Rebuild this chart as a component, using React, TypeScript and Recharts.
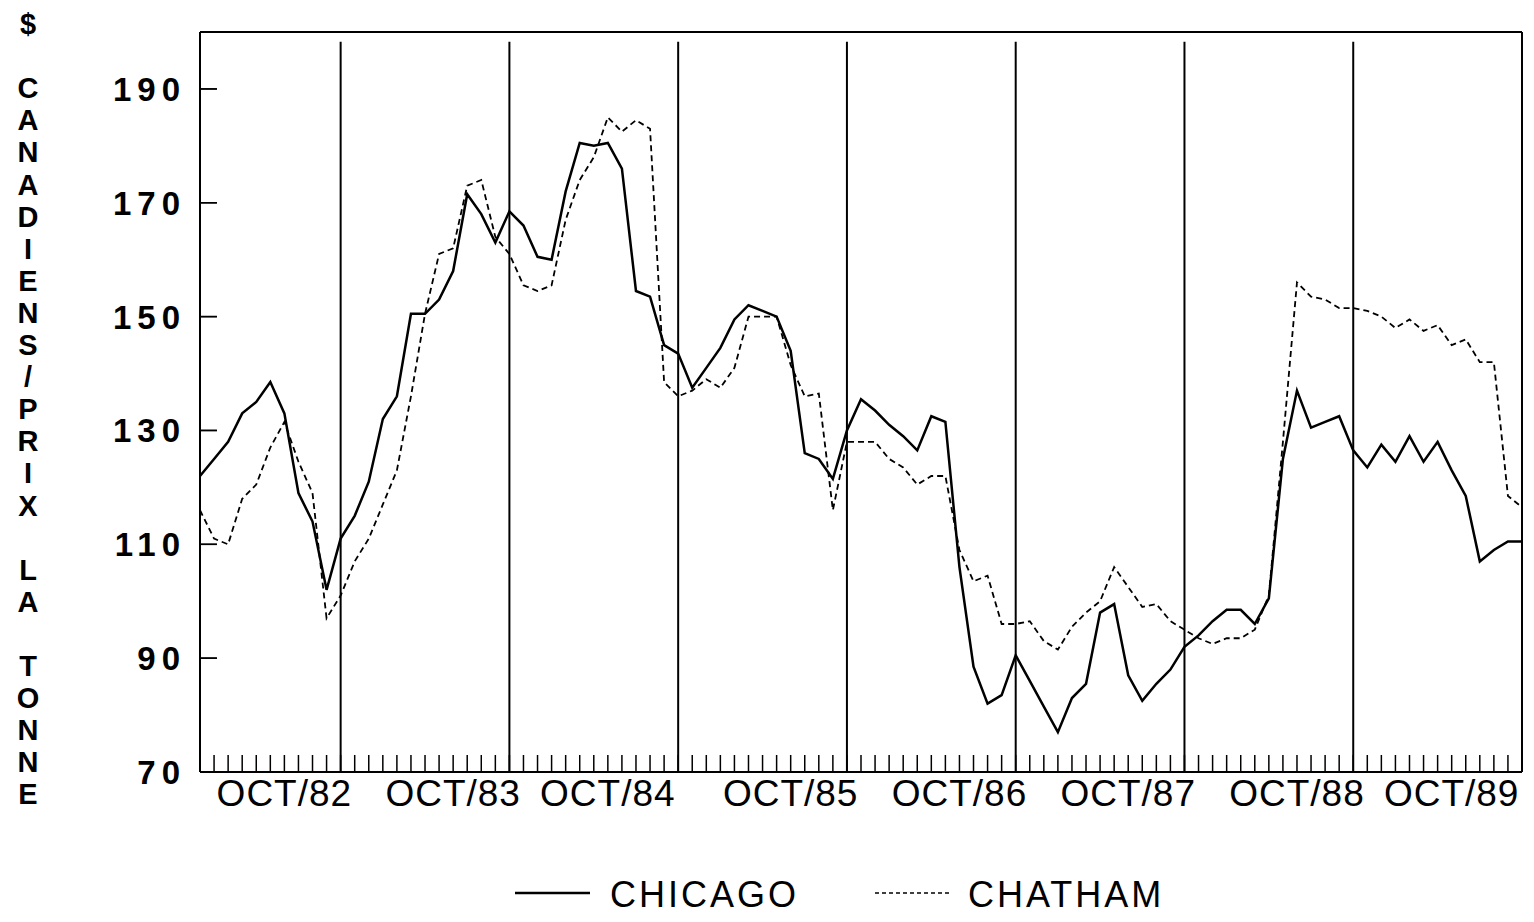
import React from 'react';
import { LineChart, Line, XAxis, YAxis, ReferenceLine, Legend } from 'recharts';

// monthly prices, $ CAN / tonne
const chicago = [
  122, 125, 128, 133, 135, 138.5, 133, 119, 114, 102,
  111, 115, 121, 132, 136, 150.5, 150.5, 153, 158, 171.5,
  168, 163, 168.5, 166, 160.5, 160, 172, 180.5, 180, 180.5,
  176, 154.5, 153.5, 145, 143.5, 137.5, 141, 144.5, 149.5, 152,
  151, 150, 144, 126, 125, 121.5, 130, 135.5, 133.5, 131,
  129, 126.5, 132.5, 131.5, 106, 88.5, 82, 83.5, 90.5, 86,
  81.5, 77, 83, 85.5, 98, 99.5, 87, 82.5, 85.5, 88,
  92, 94, 96.5, 98.5, 98.5, 96, 100.5, 125, 137, 130.5,
  131.5, 132.5, 126.5, 123.5, 127.5, 124.5, 129, 124.5, 128, 123,
  118.5, 107, 109, 110.5, 110.5,
];

const chatham = [
  116, 111, 110, 118, 120.5, 127, 131.5, 124.5, 119, 97,
  101, 107, 111, 117, 123, 136, 150.5, 161, 162, 173,
  174, 164, 161, 155.5, 154.5, 155.5, 167, 174, 178, 185,
  182.5, 184.5, 183, 138.5, 136, 137, 139, 137.5, 141, 150,
  150, 150, 141.5, 136, 136.5, 116, 128, 128, 128, 125,
  123.5, 120.5, 122, 122, 109, 103.5, 104.5, 96, 96, 96.5,
  93, 91.5, 95.5, 98, 100, 106, 102.5, 99, 99.5, 96.5,
  95, 93.5, 92.5, 93.5, 93.5, 95, 101, 128, 156, 153.5,
  153, 151.5, 151.5, 151, 150, 148, 149.5, 147.5, 148.5, 145,
  146, 142, 142, 118.5, 116.5,
];

const monthTicks = chicago.map((_, i) => i).slice(1, -1);
const yearBreaks = [10, 22, 34, 46, 58, 70, 82];
const octLabels: Record<number, string> = {
  6: 'OCT/82', 18: 'OCT/83', 29: 'OCT/84', 42: 'OCT/85',
  54: 'OCT/86', 66: 'OCT/87', 78: 'OCT/88', 89: 'OCT/89',
};
const yTicks = [70, 90, 110, 130, 150, 170, 190];
const yTitle = '$ CANADIENS/PRIX LA TONNE';

const FONT = '"Liberation Sans", Arial, sans-serif';

const data = chicago.map((v, i) => ({ month: i, chicago: v, chatham: chatham[i] }));

// only the OCT months get a label; the tick marks come from the axis itself
const MonthTick = (props: any) => {
  const { x, y, payload } = props;
  const label = octLabels[payload.value];
  if (!label) return <g />;
  return (
    <text x={x} y={y + 34} textAnchor="middle" fontFamily={FONT} fontSize={37}
      letterSpacing={1} fill="#000">
      {label}
    </text>
  );
};

const PriceTick = (props: any) => {
  const { x, y, payload } = props;
  return (
    <text x={x + 6} y={y + 12} textAnchor="end" fontFamily={FONT} fontSize={33}
      fontWeight="bold" letterSpacing={6} fill="#000">
      {payload.value}
    </text>
  );
};

// vertical stacked title: "$", blank, then one letter per line
const YTitle = () => {
  const chars = ['$', ' ', ...yTitle.slice(2).split('')];
  return (
    <g>
      {chars.map((c, i) => (
        <text key={i} x={28} y={24 + i * 32.1 + 10} textAnchor="middle" fontFamily={FONT}
          fontSize={29} fontWeight="bold" fill="#000">
          {c}
        </text>
      ))}
    </g>
  );
};

const renderLegend = () => (
  <svg width={1534} height={50} style={{ display: 'block' }}>
    <line x1={515} y1={25} x2={590} y2={25} stroke="#000" strokeWidth={2.5} />
    <text x={610} y={39} fontFamily={FONT} fontSize={36} letterSpacing={3} fill="#000">CHICAGO</text>
    <line x1={875} y1={25} x2={950} y2={25} stroke="#000" strokeWidth={1.5} strokeDasharray="4 3" />
    <text x={968} y={39} fontFamily={FONT} fontSize={36} letterSpacing={3} fill="#000">CHATHAM</text>
  </svg>
);

export default function App() {
  return (
    <div style={{ position: 'absolute', left: 0, top: 0, width: 1534, height: 922, background: '#fff' }}>
      <LineChart width={1534} height={922} data={data}
        margin={{ top: 31, right: 11, bottom: 149, left: 0 }}>
        <XAxis dataKey="month" type="number" domain={[0, 94]} ticks={monthTicks} interval={0}
          height={1} tickSize={-17} tickMargin={17}
          tickLine={{ stroke: '#000', strokeWidth: 1.5 }}
          axisLine={{ stroke: '#000', strokeWidth: 2 }} tick={<MonthTick />} />
        <XAxis xAxisId="top" orientation="top" type="number" domain={[0, 94]} height={1}
          tick={false} tickLine={false} axisLine={{ stroke: '#000', strokeWidth: 2 }} />
        <YAxis type="number" domain={[70, 200]} ticks={yTicks} interval={0} width={200}
          tickSize={-17} tickMargin={37}
          tickLine={{ stroke: '#000', strokeWidth: 1.5 }}
          axisLine={{ stroke: '#000', strokeWidth: 2 }} tick={<PriceTick />}
          label={<YTitle />} />
        <YAxis yAxisId="right" orientation="right" type="number" domain={[70, 200]} width={1}
          tick={false} tickLine={false} axisLine={{ stroke: '#000', strokeWidth: 2 }} />
        {/* short inward ticks on the price axis */}
        {yTicks.slice(1).map((v) => (
          <ReferenceLine key={`yt-${v}`} segment={[{ x: 0, y: v }, { x: 1.2, y: v }]}
            stroke="#000" strokeWidth={1.5} />
        ))}
        {yearBreaks.map((m) => (
          <ReferenceLine key={m} segment={[{ x: m, y: 198.3 }, { x: m, y: 70 }]}
            stroke="#000" strokeWidth={2} />
        ))}
        <Line type="linear" dataKey="chatham" stroke="#000" strokeWidth={1.8}
          strokeDasharray="6 4" dot={false} isAnimationActive={false} />
        <Line type="linear" dataKey="chicago" stroke="#000" strokeWidth={2.5}
          dot={false} isAnimationActive={false} />
        <Legend verticalAlign="middle" align="center" layout="horizontal"
          wrapperStyle={{ top: 868, left: 0, width: 1534, height: 50 }} content={renderLegend} />
      </LineChart>
    </div>
  );
}
